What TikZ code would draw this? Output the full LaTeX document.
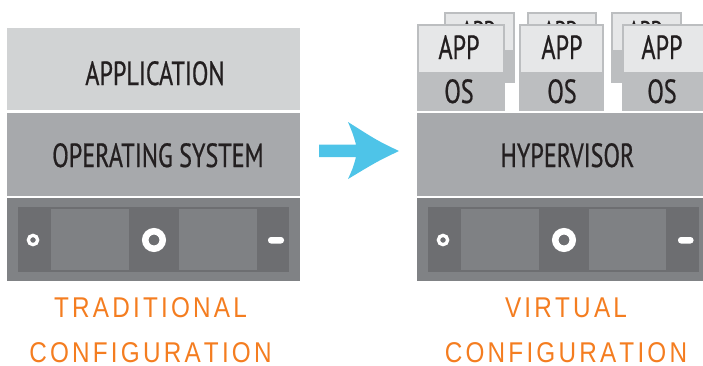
\documentclass[tikz,border=0pt]{standalone}
\usepackage{fontspec}
\newfontfamily\labfont[FakeStretch=0.72,FakeBold=0.6]{PT Sans}
\newfontfamily\orfont[FakeStretch=0.85]{Liberation Sans}
\definecolor{appgray}{HTML}{D1D3D4}
\definecolor{osgray}{HTML}{A7A9AC}
\definecolor{vmlight}{HTML}{E6E7E8}
\definecolor{vmgray}{HTML}{BCBEC0}
\definecolor{hwouter}{HTML}{808285}
\definecolor{hwinner}{HTML}{6D6E71}
\definecolor{hwpanel}{HTML}{7F8184}
\definecolor{arrowblue}{HTML}{4EC4E8}
\definecolor{orangetxt}{HTML}{F47D20}
\definecolor{darktxt}{HTML}{231F20}
\newdimen\trk
\def\spaced#1{\spacedA#1\relax}
\def\spacedA#1{#1\spacedB}
\def\spacedB#1{\ifx#1\relax\else\kern\trk #1\expandafter\spacedB\fi}
\tikzset{
  lab/.style={inner sep=0pt, anchor=base, text=darktxt, font=\labfont\fontsize{33.5}{33.5}\selectfont},
  backlab/.style={inner sep=0pt, anchor=base, text=darktxt, font=\labfont\fontsize{27.5}{27.5}\selectfont},
  orlab/.style={inner sep=0pt, anchor=base, text=orangetxt, font=\orfont\fontsize{28.6}{28.6}\selectfont},
  ring/.style={draw=white},
}
\begin{document}
\begin{tikzpicture}[x=1pt,y=-1pt]
\useasboundingbox (0,0) rectangle (703,365);
\clip (0,0) rectangle (703,365);
% ---------------- left: traditional ----------------
\fill[appgray] (7,28) rectangle (300,110);
\fill[osgray] (7,113) rectangle (300,195.7);
\node[lab] (app) at (155,85) {APPLICATION};
\node[lab] (os) at (158,167) {OPERATING SYSTEM};
% hardware left
\fill[hwouter] (7,197.5) rectangle (300,281);
\fill[hwinner] (18,207) rectangle (289,272);
\fill[hwpanel] (51,209) rectangle (129,270);
\fill[hwpanel] (179,209) rectangle (257,270);
\draw[ring, line width=3.3pt] (33,240) circle (4.65);
\draw[ring, line width=6.5pt] (154,240) circle (8.75);
\fill[white, rounded corners=3pt] (268,237) rectangle (284,243.5);
% ---------------- arrow ----------------
\fill[arrowblue] (319,144.5) -- (356,144.5)
  .. controls (353,134) .. (348,122)
  .. controls (378,141) .. (399,151)
  .. controls (378,161) .. (348,179)
  .. controls (353,168) .. (356,157) -- (319,157) -- cycle;
% ---------------- right: virtual ----------------
\fill[osgray] (417,113) rectangle (710,195.7);
\node[lab] (hyp) at (567.5,167) {HYPERVISOR};
% hardware right
\fill[hwouter] (417,197.5) rectangle (710,281);
\fill[hwinner] (428,207) rectangle (699,272);
\fill[hwpanel] (461,209) rectangle (539,270);
\fill[hwpanel] (589,209) rectangle (666,270);
\draw[ring, line width=3.3pt] (443,240) circle (4.65);
\draw[ring, line width=6.5pt] (564,240) circle (8.75);
\fill[white, rounded corners=3pt] (678,237) rectangle (693.5,243.5);
% back virtual machines
\foreach \xa/\xb/\tx/\nm in {444.3/515.3/478/b1, 527.3/596.7/560/b2, 611.3/681.7/645/b3}{
  \fill[vmgray] (\xa,12) rectangle (\xb,83);
  \fill[vmlight] (\xa+2,14) rectangle (\xb-2,50);
  \node[backlab] (\nm) at (\tx,40.3) {APP};
}
% front virtual machines
\foreach \xa/\xb/\tx/\nm in {417/505/459/f1, 519.3/604.3/562/f2, 622/708/662/f3}{
  \fill[vmgray] (\xa,24) rectangle (\xb,111);
  \fill[vmlight] (\xa+2,26) rectangle (\xb-2.5,72);
  \node[lab] (\nm app) at (\tx,59) {APP};
  \node[lab] (\nm os) at (\tx,103) {OS};
}
% ---------------- captions ----------------
\trk=3.2pt
\node[orlab] (trad) at (150.5,317) {\spaced{TRADITIONAL}};
\node[orlab] (confl) at (150.5,362.3) {\spaced{CONFIGURATION}};
\node[orlab] (virt) at (566,317) {\spaced{VIRTUAL}};
\node[orlab] (confr) at (566,362.3) {\spaced{CONFIGURATION}};
\end{tikzpicture}
\end{document}
